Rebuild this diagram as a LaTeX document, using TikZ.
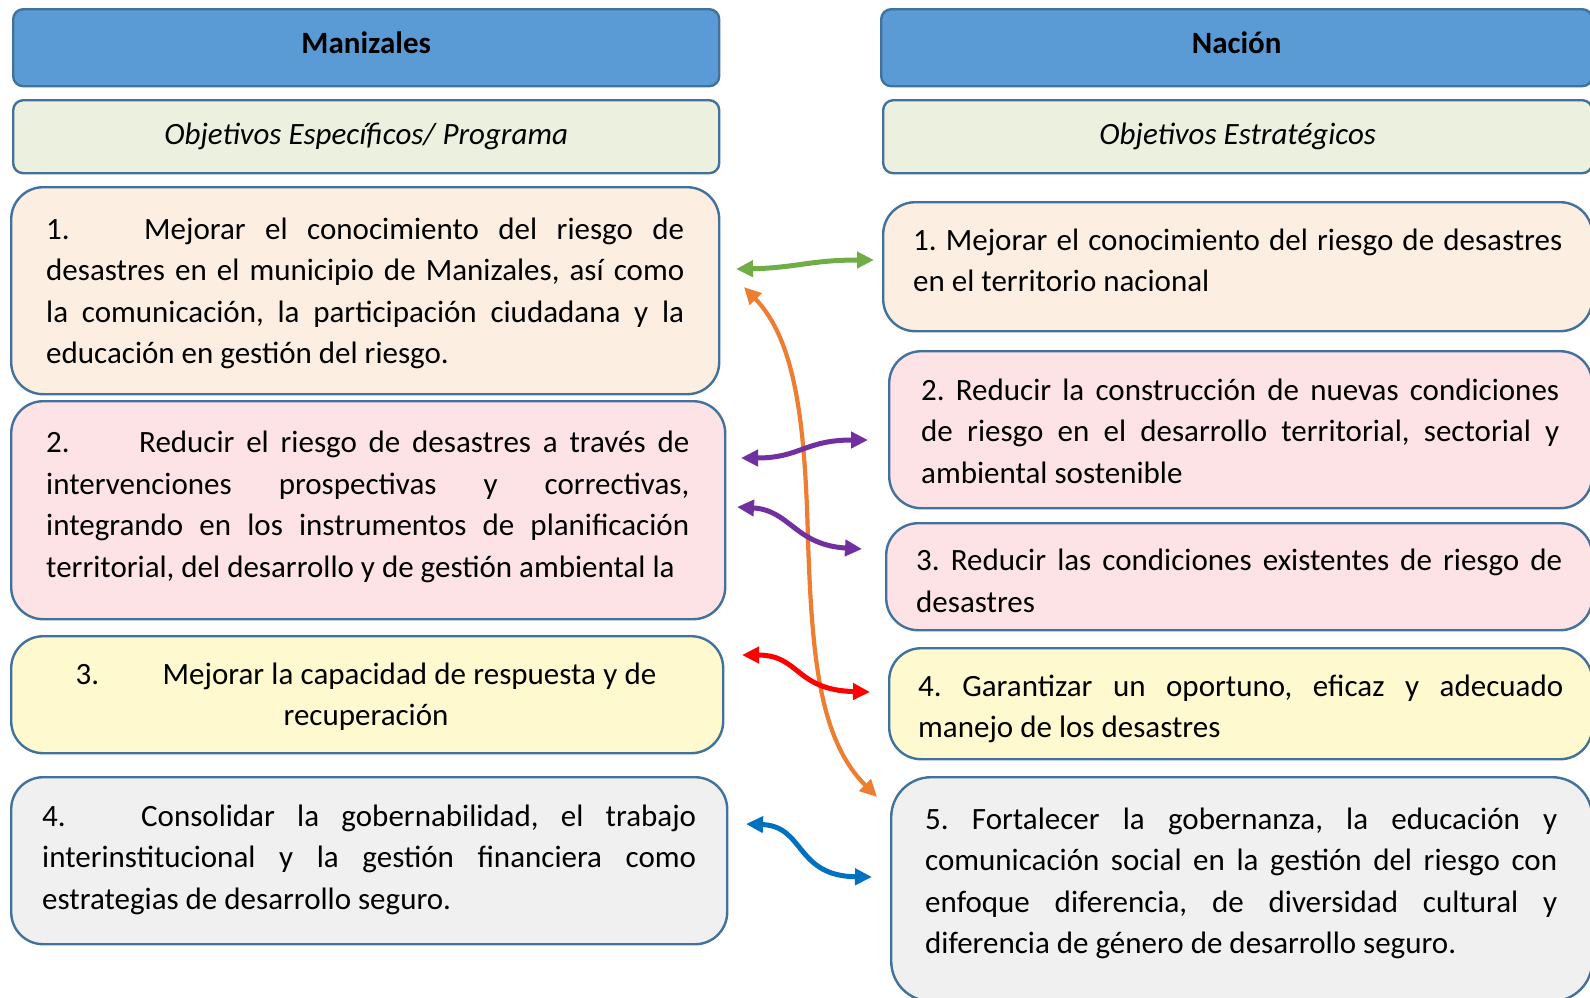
\documentclass[tikz,border=0pt]{standalone}
\usepackage{fontspec}
\setmainfont{Carlito}
\usetikzlibrary{arrows.meta}
\definecolor{hdrfill}{HTML}{5B9BD5}
\definecolor{boxdraw}{HTML}{41719C}
\definecolor{objfill}{HTML}{EBF1DE}
\definecolor{fillA}{HTML}{FDEEE2}
\definecolor{fillB}{HTML}{FDE3E6}
\definecolor{fillC}{HTML}{FEF9CE}
\definecolor{fillD}{HTML}{F0F0F0}
\definecolor{cgreen}{HTML}{70AD47}
\definecolor{corange}{HTML}{ED7D31}
\definecolor{cpurple}{HTML}{7030A0}
\definecolor{cred}{HTML}{FF0000}
\definecolor{cblue}{HTML}{0070C0}
\tolerance=10000
\hbadness=10000
\hyphenpenalty=10000
\exhyphenpenalty=10000
\frenchspacing
\tikzset{
  boxbase/.style={draw=boxdraw, line width=2.4pt, anchor=north west, inner sep=0pt},
  hdr/.style={boxbase, fill=hdrfill, rounded corners=10pt, align=center,
    font=\fontsize{31}{37}\selectfont\bfseries},
  obj/.style={boxbase, fill=objfill, rounded corners=10pt, align=center,
    font=\fontsize{31}{37}\selectfont\itshape},
  panel/.style={boxbase, rounded corners=32pt},
  tx/.style={anchor=north west, inner sep=0pt, align=justify,
    font=\fontsize{31}{41.5}\selectfont\frenchspacing},
  conn/.style={line width=5pt,
    {Triangle[length=17pt,width=16pt]}-{Triangle[length=17pt,width=16pt]}},
}
\begin{document}
\begin{tikzpicture}[x=1pt,y=-1pt]
\useasboundingbox (0,0) rectangle (1590,997);
\clip (0,0) rectangle (1590,997);

% left column
\node[hdr, minimum width=706pt, minimum height=77pt] (hM) at (12,8)
  {\raisebox{5pt}[\height][\depth]{Manizales}};
\node[obj, minimum width=706pt, minimum height=73pt] (oM) at (12,99) {Objetivos Específicos/ Programa};

\node[panel, fill=fillA, minimum width=708pt, minimum height=207pt] (m1) at (10,186) {};
\node[tx, text width=638pt] (m1t) at (46,209.8)
 {\strut\makebox[98pt][l]{1.}Mejorar el conocimiento del riesgo de\linebreak
  desastres en el municipio de Manizales, así como\linebreak
  la comunicación, la participación ciudadana y la\linebreak
  educación en gestión del riesgo.};

\node[panel, fill=fillB, minimum width=714pt, minimum height=218pt] (m2) at (10,400) {};
\node[tx, text width=643pt] (m2t) at (46,423.7)
 {\parfillskip=0pt \strut\makebox[93pt][l]{2.}Reducir el riesgo de desastres a través de\linebreak
  intervenciones prospectivas y correctivas,\linebreak
  integrando en los instrumentos de planificación\linebreak
  territorial, del desarrollo y de gestión ambiental la};

\node[panel, fill=fillC, minimum width=712pt, minimum height=117pt] (m3) at (10,635) {};
\node[tx, anchor=north, align=center, text width=660pt] (m3t) at (366,654.9)
 {\spaceskip=6pt plus 2pt minus 1pt\strut\makebox[87pt][l]{3.}Mejorar la capacidad de respuesta y de\\recuperación};

\node[panel, fill=fillD, minimum width=716pt, minimum height=167pt] (m4) at (10,776) {};
\node[tx, text width=654pt] (m4t) at (42,796.9)
 {\strut\makebox[99pt][l]{4.}Consolidar la gobernabilidad, el trabajo\linebreak
  interinstitucional y la gestión financiera como\linebreak
  estrategias de desarrollo seguro.};

% right column
\node[hdr, minimum width=711pt, minimum height=77pt] (hN) at (880,8)
  {\raisebox{5pt}[\height][\depth]{Nación}};
\node[obj, minimum width=709pt, minimum height=73pt] (oN) at (882,99) {Objetivos Estratégicos};

\node[panel, fill=fillA, minimum width=709pt, minimum height=129pt] (n1) at (882,201) {};
\node[tx, text width=649pt] (n1t) at (913,220.9)
 {\strut 1. Mejorar el conocimiento del riesgo de desastres\linebreak
  en el territorio nacional};

\node[panel, fill=fillB, minimum width=703pt, minimum height=157pt] (n2) at (888,350) {};
\node[tx, text width=638pt] (n2t) at (921,371.0)
 {\strut 2. Reducir la construcción de nuevas condiciones\linebreak
  de riesgo en el desarrollo territorial, sectorial y\linebreak
  ambiental sostenible};

\node[panel, fill=fillB, minimum width=706pt, minimum height=107pt] (n3) at (885,522) {};
\node[tx, text width=646pt] (n3t) at (916,541.3)
 {\strut 3. Reducir las condiciones existentes de riesgo de\linebreak
  desastres};

\node[panel, fill=fillC, minimum width=703pt, minimum height=111pt] (n4) at (888,647) {};
\node[tx, text width=645pt] (n4t) at (918,667.1)
 {\strut 4. Garantizar un oportuno, eficaz y adecuado\linebreak
  manejo de los desastres};

\node[panel, fill=fillD, rounded corners=40pt, minimum width=701pt, minimum height=224pt] (n5) at (890,776) {};
\node[tx, text width=632pt] (n5t) at (925,799.9)
 {\strut 5. Fortalecer la gobernanza, la educación y\linebreak
  comunicación social en la gestión del riesgo con\linebreak
  enfoque diferencia, de diversidad cultural y\linebreak
  diferencia de género de desarrollo seguro.};

% connector ends
\coordinate (ga) at (736,269);
\coordinate (gb) at (874,260);
\coordinate (oa) at (744,287);
\coordinate (om) at (808,540);
\coordinate (ob) at (877,797);
\coordinate (pa) at (741,458);
\coordinate (pb) at (868,440);
\coordinate (qa) at (737,507);
\coordinate (qb) at (862,549);
\coordinate (ra) at (742,655);
\coordinate (rb) at (870,692);
\coordinate (ba) at (746,824);
\coordinate (bb) at (872,877);

\draw[conn, draw=cgreen] (ga) .. controls (795,268) and (810,260) .. (gb);
\draw[conn, line width=4.2pt, draw=corange] (oa) .. controls (795,340) and (805,420) .. (om)
   .. controls (812,660) and (820,740) .. (ob);
\draw[conn, draw=cpurple] (pa) .. controls (800,458) and (805,440) .. (pb);
\draw[conn, draw=cpurple] (qa) .. controls (790,510) and (795,545) .. (qb);
\draw[conn, draw=cred] (ra) .. controls (800,655) and (795,690) .. (rb);
\draw[conn, draw=cblue] (ba) .. controls (805,826) and (795,876) .. (bb);
\end{tikzpicture}
\end{document}
